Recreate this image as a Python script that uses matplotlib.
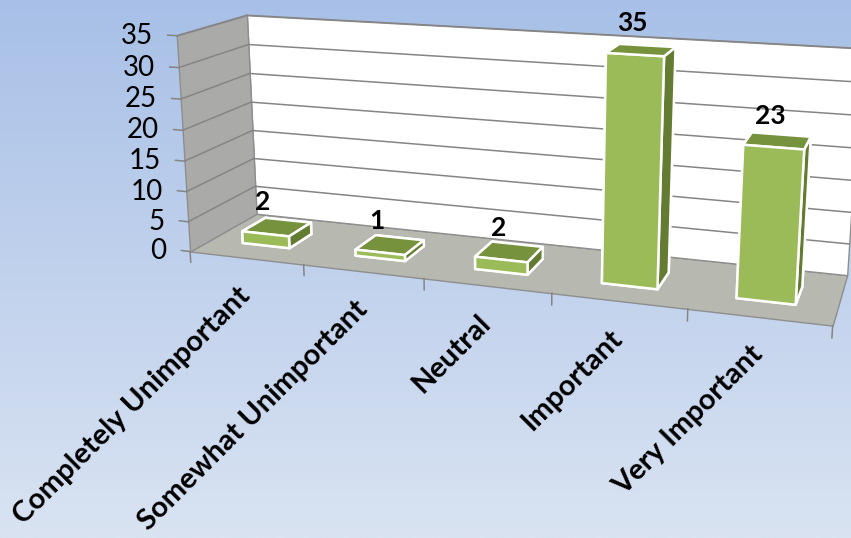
import numpy as np
import matplotlib.pyplot as plt
from matplotlib.colors import LinearSegmentedColormap
from mpl_toolkits.mplot3d import proj3d
from mpl_toolkits.mplot3d.art3d import Poly3DCollection

categories = ["Completely Unimportant", "Somewhat Unimportant", "Neutral",
              "Important", "Very Important"]
counts = [2, 1, 2, 35, 23]
y_ticks = [0, 5, 10, 15, 20, 25, 30, 35]

plt.rcParams['font.family'] = ['Lato', 'DejaVu Sans']

fig = plt.figure(figsize=(8.51, 5.38), dpi=100)

# background gradient
bg = fig.add_axes([0, 0, 1, 1])
grad = np.linspace(0, 1, 256).reshape(-1, 1)
bg_cmap = LinearSegmentedColormap.from_list('bg', ['#A8C0E7', '#D9E3F2'])
bg.imshow(grad, aspect='auto', cmap=bg_cmap, extent=[0, 1, 0, 1])
bg.set_axis_off()

# 3d axes: a big square box (1200 px) so nothing gets clipped,
# centred where the scene sits in the picture
W, H = 851, 538
side, cx, cy = 1200, 494, 367
ax = fig.add_axes([(cx - side / 2) / W, (cy - side / 2) / H, side / W, side / H],
                  projection='3d')
ax.patch.set_alpha(0)
ax.set_axis_off()
ax.set_proj_type('persp', focal_length=0.211)
ax.view_init(elev=14.5, azim=-71.5)

n = len(categories)
x0, x1 = -0.5, n - 0.5
zmax = y_ticks[-1]
ax.set_xlim(x0, x1)
ax.set_ylim(0, 1)
ax.set_zlim(0, zmax)
ax.set_box_aspect((4.62, 1, 1.6), zoom=0.576)
ax.computed_zorder = False

# walls and floor
floor = [[(x0, 0, 0), (x1, 0, 0), (x1, 1, 0), (x0, 1, 0)]]
back = [[(x0, 1, 0), (x1, 1, 0), (x1, 1, zmax), (x0, 1, zmax)]]
left = [[(x0, 0, 0), (x0, 1, 0), (x0, 1, zmax), (x0, 0, zmax)]]
ax.add_collection3d(Poly3DCollection(floor, facecolor='#B7B9B1', edgecolor='#8E8E8E', linewidth=1, zorder=1))
ax.add_collection3d(Poly3DCollection(back, facecolor='white', edgecolor='#8E8E8E', linewidth=1, zorder=1))
ax.add_collection3d(Poly3DCollection(left, facecolor='#AAABA9', edgecolor='#8E8E8E', linewidth=1, zorder=1))

# gridlines
for t in y_ticks[1:]:
    ax.plot([x0, x1], [1, 1], [t, t], color='#858585', lw=1.1, zorder=2)
    ax.plot([x0, x0], [0, 1], [t, t], color='#858585', lw=1.1, zorder=2)
    ax.plot([x0 - 0.08, x0], [0, 0], [t, t], color='#858585', lw=1.1, zorder=2)
ax.plot([x0 - 0.08, x0], [0, 0], [0, 0], color='#858585', lw=1.1, zorder=2)
for xb in np.arange(n + 1) - 0.5:
    ax.plot([xb, xb], [0, 0], [0, -1.8], color='#858585', lw=1.1, zorder=2)

# bars
bw, bd, by = 0.42, 0.36, 0.3
face = ['#9BBB59', '#76923C', '#9BBB59', '#9BBB59', '#647B32', '#647B32']
colors = face * n
ax.bar3d(np.arange(n) - bw / 2, np.full(n, by), np.zeros(n), bw, bd, counts,
         color=colors, edgecolor='white', linewidth=1.8, shade=False, zorder=3)

M = ax.get_proj()


def put(x, y, z, s, dx, dy, **kw):
    px, py, _ = proj3d.proj_transform(x, y, z, M)
    ax.annotate(s, (px, py), xytext=(dx, dy), textcoords='offset points', **kw)


for t in y_ticks:
    put(x0, 0, t, str(t), -17, 0, ha='right', va='center', fontsize=20)

for i, c in enumerate(categories):
    put(i, 0, 0, c, 0, -24, ha='right', va='center', rotation=45,
        rotation_mode='anchor', fontsize=21, fontweight='bold')

for i, v in enumerate(counts):
    put(i, by, v, str(v), -2, 14, ha='center', va='bottom',
        fontsize=19, fontweight='bold')

fig.savefig('out.png', dpi=100)
